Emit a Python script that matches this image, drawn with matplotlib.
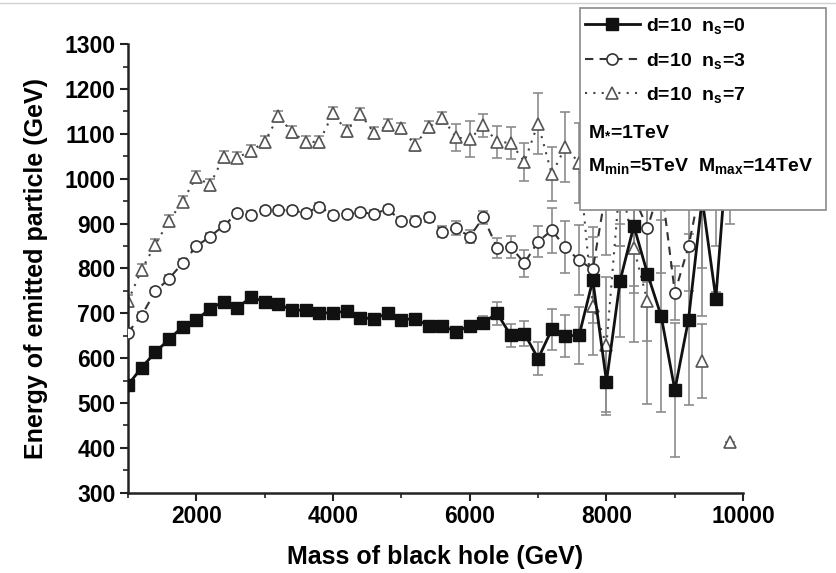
import matplotlib.pyplot as plt
from matplotlib.lines import Line2D
from matplotlib.patches import Rectangle

nan = float("nan")

plt.rcParams["font.family"] = ["Liberation Sans", "DejaVu Sans"]
plt.rcParams["font.weight"] = "bold"
plt.rcParams["mathtext.fontset"] = "custom"
plt.rcParams["mathtext.rm"] = "Liberation Sans:bold"
plt.rcParams["mathtext.it"] = "Liberation Sans:bold"
plt.rcParams["mathtext.bf"] = "Liberation Sans:bold"

# black hole mass (GeV)
mass = [
    1000, 1200, 1400, 1600, 1800, 2000, 2200, 2400, 2600, 2800,
    3000, 3200, 3400, 3600, 3800, 4000, 4200, 4400, 4600, 4800,
    5000, 5200, 5400, 5600, 5800, 6000, 6200, 6400, 6600, 6800,
    7000, 7200, 7400, 7600, 7800, 8000, 8200, 8400, 8600, 8800,
    9000, 9200, 9400, 9600, 9800,
]

# d=10, n_s=0
e_ns0 = [
    540, 579, 613, 642, 670, 685, 710, 726, 712, 736,
    726, 721, 707, 707, 701, 701, 705, 690, 688, 700,
    686, 688, 672, 672, 659, 672, 679, 700, 651, 655,
    599, 664, 650, 651, 774, 548, 773, 895, 788, 694,
    529, 686, 955, 733, 1130,
]
err_ns0 = [
    5, 5, 5, 5, 5, 5, 5, 5, 5, 5,
    5, 5, 5, 5, 5, 5, 5, 5, 5, 5,
    5, 5, 5, 5, 5, 10, 15, 25, 25, 28,
    37, 45, 47, 63, 95, 75, 125, 150, 150, 215,
    150, 190, 260, 15, 20,
]

# d=10, n_s=3
e_ns3 = [
    657, 695, 749, 777, 812, 849, 871, 895, 923, 919,
    930, 930, 930, 923, 938, 919, 921, 925, 922, 932,
    906, 906, 914, 882, 890, 871, 914, 846, 848, 812,
    860, 885, 847, 818, 798, 980, 1000, 960, 890, 990,
    746, 849, 1000, 1050, 1100,
]
err_ns3 = [
    8, 8, 8, 8, 8, 8, 8, 8, 8, 8,
    8, 8, 8, 8, 8, 8, 8, 8, 8, 8,
    8, 10, 10, 12, 15, 15, 15, 22, 25, 30,
    35, 50, 58, 78, 95, 150, 150, 200, 120, 200,
    60, 100, 200, 200, 200,
]

# d=10, n_s=7 (points hidden behind the legend box left out)
e_ns7 = [
    727, 797, 853, 906, 949, 1004, 986, 1049, 1047, 1062,
    1082, 1139, 1104, 1082, 1082, 1146, 1106, 1145, 1102, 1119,
    1112, 1075, 1115, 1136, 1092, 1088, 1119, 1082, 1080, 1038,
    1123, 1010, 1071, 1035, 716, 630, 1000, 845, 727, nan,
    nan, nan, 594, nan, 413,
]
err_ns7 = [
    13, 13, 13, 13, 13, 13, 13, 13, 13, 13,
    13, 13, 13, 13, 13, 13, 13, 13, 13, 13,
    13, 13, 13, 13, 30, 40, 25, 35, 35, 42,
    67, 60, 78, 90, 110, 150, 150, 210, 230, 0,
    0, 0, 82, 0, 0,
]

legend_labels = [
    r"d=10  n$_{\mathregular{s}}$=0",
    r"d=10  n$_{\mathregular{s}}$=3",
    r"d=10  n$_{\mathregular{s}}$=7",
]

fig = plt.figure(figsize=(8.36, 5.73), dpi=100)
ax = fig.add_axes([0.153, 0.140, 0.736, 0.783])

err_style = dict(
    fmt="none",
    ecolor="#8c8c8c",
    elinewidth=1.2,
    capsize=3.5,
    capthick=1.2,
    zorder=1,
)
ax.errorbar(mass, e_ns7, yerr=err_ns7, **err_style)
ax.errorbar(mass, e_ns3, yerr=err_ns3, **err_style)
ax.errorbar(mass, e_ns0, yerr=err_ns0, **err_style)

h7, = ax.plot(
    mass, e_ns7, color="#444444", lw=1.5, ls=(0, (1, 3)),
    marker="^", ms=9, mfc="white", mec="#555555", mew=1.2, zorder=2,
)
h3, = ax.plot(
    mass, e_ns3, color="#333333", lw=1.5, ls=(0, (4, 3)),
    marker="o", ms=8, mfc="white", mec="#333333", mew=1.2, zorder=3,
)
h0, = ax.plot(
    mass, e_ns0, color="#111111", lw=2,
    marker="s", ms=8, mfc="#111111", mec="#111111", zorder=4,
)

ax.set_xlim(1000, 10000)
ax.set_ylim(300, 1300)
ax.set_xticks([2000, 4000, 6000, 8000, 10000])
ax.set_xticks(range(1000, 10001, 1000), minor=True)
ax.set_yticks(range(300, 1301, 100))
ax.set_yticks(range(350, 1300, 100), minor=True)

for side in ["top", "right"]:
    ax.spines[side].set_visible(False)
for side in ["left", "bottom"]:
    ax.spines[side].set_linewidth(1.8)
    ax.spines[side].set_color("#222222")

ax.tick_params(which="major", direction="out", length=6, width=1.5,
               labelsize=16.5, pad=3, color="#222222")
ax.tick_params(which="minor", direction="out", length=3.5, width=1.2,
               color="#222222")

ax.set_xlabel("Mass of black hole (GeV)", fontsize=18,
              fontweight="bold", labelpad=12)
ax.set_ylabel("Energy of emitted particle (GeV)", fontsize=18,
              fontweight="bold", labelpad=12)

# legend box, partly outside the axes
fig.add_artist(Rectangle(
    (0.694, 0.633), 0.294, 0.353, transform=fig.transFigure,
    facecolor="white", edgecolor="#8a8a8a", lw=1.2, zorder=5,
))

leg = fig.legend(
    handles=[h0, h3, h7],
    labels=legend_labels,
    loc="upper left",
    bbox_to_anchor=(0.700, 0.972),
    frameon=False,
    fontsize=14,
    handlelength=2.8,
    handletextpad=0.35,
    labelspacing=0.75,
    borderpad=0,
    borderaxespad=0,
    numpoints=1,
)
leg.set_zorder(6)

fig.text(0.703, 1 - 130 / 573, r"M$_{\mathregular{*}}$=1TeV",
         fontsize=14, va="center", zorder=7)
fig.text(0.703, 1 - 166 / 573,
         r"M$_{\mathregular{min}}$=5TeV  M$_{\mathregular{max}}$=14TeV",
         fontsize=14, va="center", zorder=7)

fig.add_artist(Line2D([0, 1], [0.995, 0.995], transform=fig.transFigure,
                      color="#d0d0d0", lw=1))

fig.savefig("out.png", dpi=100)
